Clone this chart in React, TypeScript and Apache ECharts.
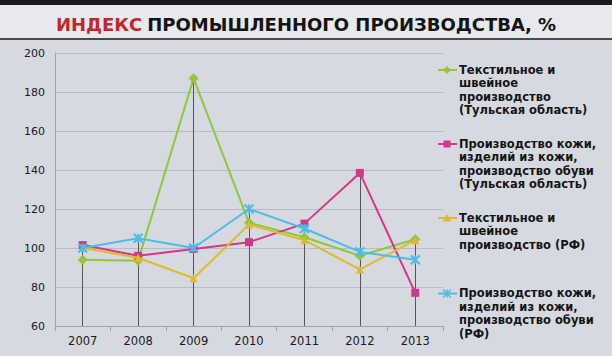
import React, { useEffect, useRef } from "react";
import * as echarts from "echarts";

const years = ["2007", "2008", "2009", "2010", "2011", "2012", "2013"];
const textileTula = [94, 93.5, 187, 113, 105.5, 96, 104.5];
const leatherTula = [101.5, 96, 99.5, 103, 112.5, 138.5, 77];
const textileRF = [100, 95, 84.5, 112, 104, 89, 104];
const leatherRF = [100, 105, 100, 120, 110, 98, 94];

const seriesNames = [
  "Текстильное и\nшвейное\nпроизводство\n(Тульская область)",
  "Производство кожи,\nизделий из кожи,\nпроизводство обуви\n(Тульская область)",
  "Текстильное и\nшвейное\nпроизводство (РФ)",
  "Производство кожи,\nизделий из кожи,\nпроизводство обуви\n(РФ)",
];
const colors = ["#93c63b", "#d43689", "#dfbb2c", "#4cbde6"];
const symbols = ["diamond", "rect", "triangle", "path://M0,0L10,10M10,0L0,10M5,0L5,10"];
const dataSets = [textileTula, leatherTula, textileRF, leatherRF];

const AXIS_MIN = 60;
const FONT = "'DejaVu Sans', 'Liberation Sans', Arial, sans-serif";

export default function App() {
  const ref = useRef<HTMLDivElement>(null);
  useEffect(() => {
    const chart = echarts.init(ref.current!, null, { renderer: "svg" });
    const legendTops = [63, 137, 211, 286.5];
    const graphic: any[] = [
      { type: "rect", shape: { x: 0, y: 0, width: 612, height: 39 }, style: { fill: "#e8e9ec" }, z: -10 },
      { type: "rect", shape: { x: 0, y: 0, width: 612, height: 5 }, style: { fill: "#1a1a1a" }, z: -9 },
      { type: "rect", shape: { x: 0, y: 38, width: 612, height: 2 }, style: { fill: "#4a4a4a" }, z: -9 },
    ];
    legendTops.forEach((top, i) => {
      const cy = top + 7;
      graphic.push({
        type: "line",
        shape: { x1: 438, y1: cy, x2: 457, y2: cy },
        style: { stroke: colors[i], lineWidth: 2 },
      });
      if (i === 0) {
        graphic.push({ type: "polygon", shape: { points: [[447, cy - 4], [451, cy], [447, cy + 4], [443, cy]] }, style: { fill: colors[i] } });
      } else if (i === 1) {
        graphic.push({ type: "rect", shape: { x: 443.5, y: cy - 3.5, width: 7, height: 7 }, style: { fill: colors[i] } });
      } else if (i === 2) {
        graphic.push({ type: "polygon", shape: { points: [[447, cy - 4], [451.5, cy + 3.5], [442.5, cy + 3.5]] }, style: { fill: colors[i] } });
      } else {
        graphic.push({ type: "line", shape: { x1: 443, y1: cy - 4, x2: 451, y2: cy + 4 }, style: { stroke: colors[i], lineWidth: 1.5 } });
        graphic.push({ type: "line", shape: { x1: 451, y1: cy - 4, x2: 443, y2: cy + 4 }, style: { stroke: colors[i], lineWidth: 1.5 } });
        graphic.push({ type: "line", shape: { x1: 447, y1: cy - 4, x2: 447, y2: cy + 4 }, style: { stroke: colors[i], lineWidth: 1.5 } });
      }
      graphic.push({
        type: "text",
        x: 459,
        y: top,
        style: {
          text: seriesNames[i],
          font: "bold 11.5px " + FONT,
          fill: "#151515",
          lineHeight: 13.5,
        },
      });
    });

    const series: any[] = dataSets.map((d, i) => ({
      name: seriesNames[i],
      type: "line",
      data: d,
      symbol: symbols[i],
      symbolSize: i === 3 ? 9 : i === 0 ? 10 : 8,
      lineStyle: { color: colors[i], width: 2 },
      itemStyle: { color: colors[i], borderColor: colors[i], borderWidth: i === 3 ? 2 : 0 },
      z: 3 + i,
      markLine: {
        silent: true,
        symbol: "none",
        label: { show: false },
        lineStyle: { color: "#555", width: 1, type: "solid" },
        data: d.map((v, j) => [
          { coord: [j, v] },
          { coord: [j, AXIS_MIN] },
        ]),
        z: 1,
      },
    }));

    chart.setOption({
      animation: false,
      backgroundColor: "#d6d9e0",
      title: {
        text: "{r|ИНДЕКС} {k|ПРОМЫШЛЕННОГО ПРОИЗВОДСТВА, %}",
        left: "center",
        top: 10,
        textStyle: {
          rich: {
            r: { color: "#c3262c", fontSize: 18, fontWeight: "bold", fontFamily: FONT },
            k: { color: "#141414", fontSize: 18, fontWeight: "bold", fontFamily: FONT },
          },
        },
      },
      graphic,
      grid: { left: 55, right: 169, top: 53, bottom: 30 },
      xAxis: {
        type: "category",
        data: years,
        boundaryGap: true,
        axisLine: { lineStyle: { color: "#a0a3aa" } },
        axisTick: { show: true, lineStyle: { color: "#a0a3aa" } },
        axisLabel: { color: "#1a1a1a", fontSize: 11.5, margin: 9, fontFamily: FONT },
      },
      yAxis: {
        type: "value",
        min: AXIS_MIN,
        max: 200,
        interval: 20,
        axisLine: { show: true, lineStyle: { color: "#a0a3aa" } },
        axisTick: { show: false },
        splitLine: { lineStyle: { color: "#b9bcc4" } },
        axisLabel: { color: "#1a1a1a", fontSize: 11, margin: 10, fontFamily: FONT },
      },
      series,
    });
    return () => chart.dispose();
  }, []);
  return <div ref={ref} style={{ position: "fixed", left: 0, top: 0, width: 612, height: 356 }} />;
}
